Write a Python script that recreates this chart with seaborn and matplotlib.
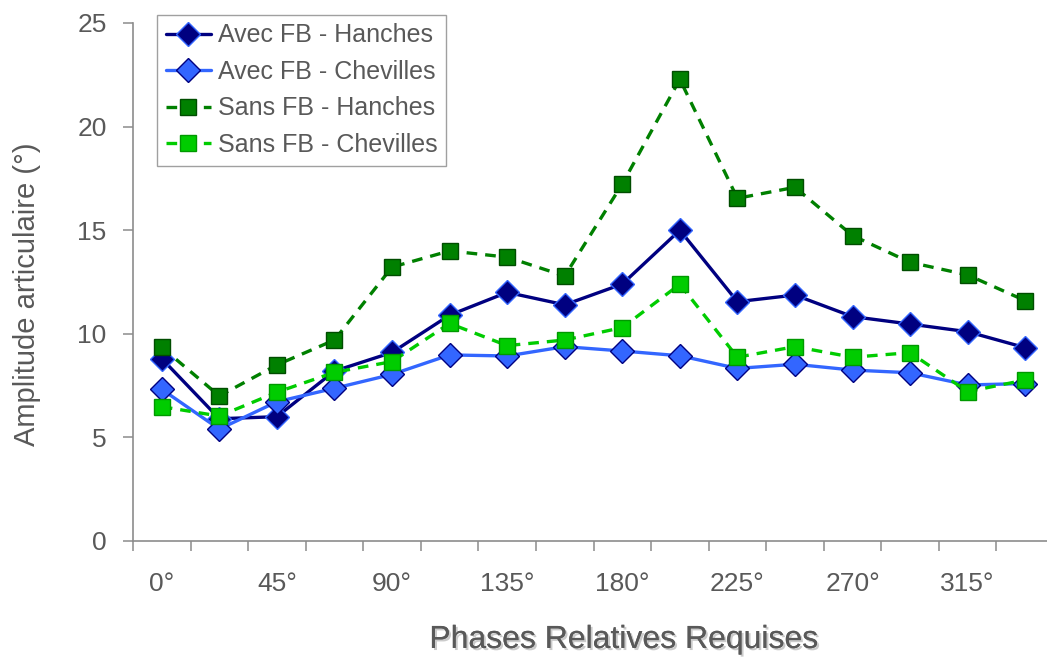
import matplotlib
matplotlib.use("Agg")
import matplotlib.pyplot as plt
import matplotlib.patheffects as pe
from matplotlib.ticker import FixedLocator
import seaborn as sns
import pandas as pd

# phases (16 categories, one label every other)
phases = ["0°", "22,5°", "45°", "67,5°", "90°", "112,5°", "135°", "157,5°",
          "180°", "202,5°", "225°", "247,5°", "270°", "292,5°", "315°", "337,5°"]
tick_labels = ["0°", "45°", "90°", "135°", "180°", "225°", "270°", "315°"]

avec_hanches = [8.8, 5.9, 6.0, 8.2, 9.1, 10.9, 12.0, 11.4,
                12.4, 15.0, 11.55, 11.87, 10.83, 10.47, 10.1, 9.33]
avec_chevilles = [7.32, 5.4, 6.72, 7.37, 8.04, 8.98, 8.93, 9.38,
                  9.17, 8.94, 8.33, 8.53, 8.25, 8.12, 7.53, 7.6]
sans_hanches = [9.35, 7.0, 8.5, 9.7, 13.22, 14.0, 13.7, 12.79,
                17.23, 22.28, 16.54, 17.07, 14.74, 13.45, 12.84, 11.6]
sans_chevilles = [6.48, 6.03, 7.18, 8.14, 8.66, 10.5, 9.43, 9.7,
                  10.3, 12.39, 8.87, 9.38, 8.87, 9.09, 7.21, 7.77]

sns.set_style("white")
plt.rcParams['font.family'] = ['Liberation Sans', 'DejaVu Sans']

grey = "#595959"
fig = plt.figure(figsize=(10.47, 6.59), dpi=100)
ax = fig.add_axes([133 / 1047, 1 - 541 / 659, 1 - 133 / 1047, 518 / 659])

x = list(range(len(phases)))
series = [
    ("Avec FB - Hanches", avec_hanches, "#000080", "D", "#3366FF", "-", 12),
    ("Avec FB - Chevilles", avec_chevilles, "#3366FF", "D", "#000080", "-", 12),
    ("Sans FB - Hanches", sans_hanches, "#008000", "s", "#004d00", "--", 11),
    ("Sans FB - Chevilles", sans_chevilles, "#00CC00", "s", "#009900", "--", 11),
]
for name, vals, col, mk, edge, ls, ms in series:
    df = pd.DataFrame({"x": x, "y": vals})
    sns.lineplot(data=df, x="x", y="y", ax=ax, color=col, marker=mk,
                 markersize=ms, markeredgecolor=edge, markeredgewidth=1.0,
                 linestyle=ls, linewidth=2.4, label=name)
for line in ax.get_lines():
    if line.get_linestyle() == "--":
        line.set_dashes((3.2, 2.4))

ax.set_ylim(0, 25)
ax.set_yticks([0, 5, 10, 15, 20, 25])
cat_w = (1054 - 133) / 16
ax.set_xlim(-0.5, -0.5 + (1047 - 133) / cat_w)
ax.set_xticks(list(range(0, 16, 2)))
ax.set_xticklabels(tick_labels)
ax.xaxis.set_minor_locator(FixedLocator([i - 0.5 for i in range(17)]))

for s in ["top", "right"]:
    ax.spines[s].set_visible(False)
for s in ["left", "bottom"]:
    ax.spines[s].set_color("#8c8c8c")
    ax.spines[s].set_linewidth(1.2)

ax.tick_params(axis="y", which="major", left=True, length=7, width=1.1,
               color="#8c8c8c", labelsize=19, labelcolor=grey, pad=12)
ax.tick_params(axis="x", which="major", bottom=True, length=0,
               labelsize=19, labelcolor=grey, pad=22)
ax.tick_params(axis="x", which="minor", bottom=True, length=7, width=1.1,
               color="#8c8c8c")

ax.set_ylabel("Amplitude articulaire (°)", fontsize=21, color=grey)
ax.yaxis.set_label_coords(-0.116, 0.477)
ax.yaxis.label.set_va("center")
ax.set_xlabel("Phases Relatives Requises", fontsize=23, color=grey,
              path_effects=[pe.withSimplePatchShadow(offset=(1.5, -1.5),
                                                     shadow_rgbFace="#bfbfbf",
                                                     alpha=0.8),
                            pe.Normal()])
ax.xaxis.set_label_coords(0.537, -0.191)
ax.xaxis.label.set_va("center")

leg = ax.legend(loc="upper left", bbox_to_anchor=(0.026, 1.016),
                fontsize=18, frameon=True, fancybox=False, framealpha=1,
                edgecolor="#a0a0a0", handlelength=1.8, handletextpad=0.3,
                borderpad=0.35, labelspacing=0.5, borderaxespad=0)
leg.get_frame().set_linewidth(1.0)
for t in leg.get_texts():
    t.set_color(grey)

fig.savefig("out.png", dpi=100)
